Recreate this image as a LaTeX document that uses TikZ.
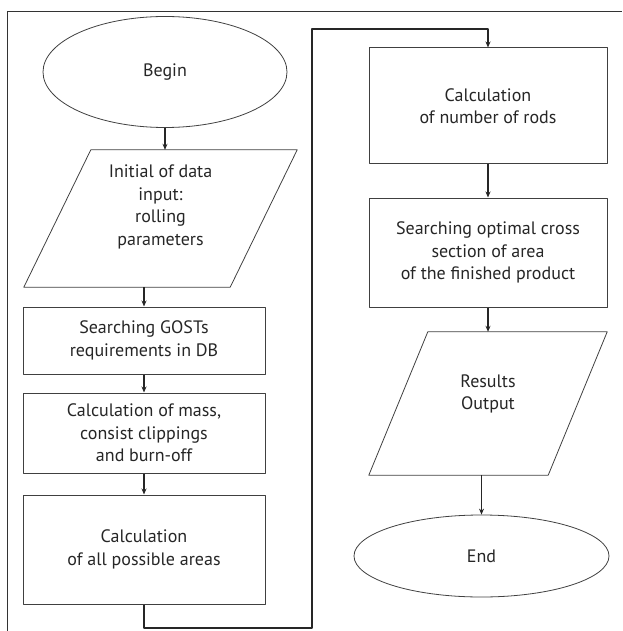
\documentclass[tikz,border=0pt]{standalone}
\usepackage{fontspec}
\setmainfont{PT Sans}
\usetikzlibrary{shapes.geometric,arrows.meta}
\begin{document}
\begin{tikzpicture}[x=1pt, y=-1pt, line join=round,
	font=\fontsize{18}{22.5}\selectfont, text=black!85,
	blk/.style={draw=black!75, line width=1pt, rectangle, align=center, inner sep=0pt},
	oval/.style={draw=black!75, line width=0.8pt, ellipse, inner sep=0pt},
	io/.style={rectangle, inner sep=0pt, align=center},
	flow/.style={draw=black!85, line width=1.3pt, -{Stealth[length=6pt,width=5pt]}}]
	\useasboundingbox (0,0) rectangle (622,631);
	% frame
	\draw[black!80, line width=1pt] (7,631)--(7,12)--(622,12);
	% left column
	\node[oval, minimum width=244, minimum height=111] (begin) at (165,72) {Begin};
	\node[io, minimum width=206, minimum height=137] (input) at (160.5,218.5) {Initial of data\\input:\\rolling\\parameters\\[4pt]\mbox{}};
	\draw[black!75, line width=0.8pt] ([xshift=33.5pt]input.north west)--([xshift=33.5pt]input.north east)--([xshift=-33.5pt]input.south east)--([xshift=-33.5pt]input.south west)--cycle;
	\node[blk, minimum width=242, minimum height=67] (gost) at (144,340.5) {Searching GOSTs\\requirements in DB};
	\node[blk, minimum width=242, minimum height=80] (mass) at (144,433) {Calculation of mass,\\consist clippings\\and burn-off};
	\node[blk, minimum width=242, minimum height=109] (areas) at (144,549.5) {Calculation\\of all possible areas};
	% right column
	\node[blk, minimum width=238, minimum height=116] (rods) at (488,106) {Calculation\\of number of rods};
	\node[blk, minimum width=238, minimum height=109] (optimal) at (488,252.5) {Searching optimal cross\\section of area\\of the finished product};
	\node[io, minimum width=179, minimum height=143] (output) at (488,403.5) {Results\\Output\\[0pt]\mbox{}};
	\draw[black!75, line width=0.8pt] ([xshift=29.5pt]output.north west)--([xshift=29.5pt]output.north east)--([xshift=-29.5pt]output.south east)--([xshift=-29.5pt]output.south west)--cycle;
	\node[oval, minimum width=255, minimum height=82] (end) at (481.5,556) {End};
	\coordinate (loopB) at (312,628);
	\coordinate (loopT) at (312,29);
	% connectors
	\draw[flow] (begin.south)--(begin.south |- input.north);
	\draw[flow] (gost.north |- input.south)--(gost.north);
	\draw[flow] (gost.south)--(mass.north);
	\draw[flow] (mass.south)--(areas.north);
	\draw[flow] (areas.south) |- (loopB)--(loopT) -| (rods.north);
	\draw[flow] (rods.south)--(optimal.north);
	\draw[flow] (optimal.south)--(optimal.south |- output.north);
	\draw[flow] (end.north |- output.south)--(end.north);
\end{tikzpicture}
\end{document}
